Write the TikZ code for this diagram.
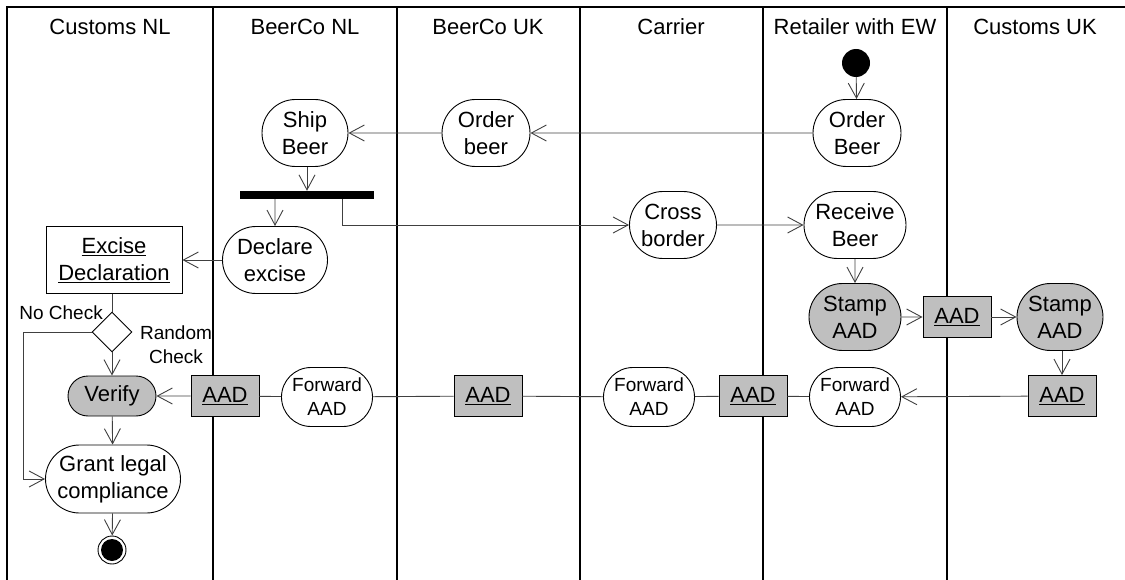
\documentclass[tikz,border=0pt]{standalone}
\usepackage{fontspec}
\setmainfont{Liberation Sans}
\usepackage{tikz}
\usetikzlibrary{shapes.geometric,shapes.misc,arrows.meta,calc}

\newcommand{\mainfs}{\fontsize{22}{27}\selectfont}
\newcommand{\smallfs}{\fontsize{19}{24}\selectfont}

\begin{document}
\begin{tikzpicture}[
    x=1pt,y=-1pt,
    lane/.style={line width=1.2pt},
    act/.style={draw,rounded rectangle,fill=white,line width=0.9pt,minimum height=67pt,inner sep=0pt,align=center,font=\mainfs},
    fwd/.style={act,minimum height=59pt,minimum width=91pt,font=\smallfs},
    stamp/.style={act,fill=black!25},
    obj/.style={draw,fill=black!25,line width=0.9pt,minimum width=68pt,minimum height=41pt,inner sep=0pt,font=\mainfs},
    conn/.style={draw=black!75,line width=0.9pt},
    >={Straight Barb[length=15pt,width=16pt]},
    lbl/.style={font=\smallfs,align=center,inner sep=0pt},
]
    \useasboundingbox (0,0) rectangle (1125,580);

    % swimlanes
    \draw[lane] (7,580) -- (7,7) -- (1125,7);
    \foreach \x in {213,397,580,763,947}
        \draw[lane] (\x,7) -- (\x,580);
    \foreach \x/\name in {110/Customs NL,305/BeerCo NL,488/BeerCo UK,671/Carrier,855/Retailer with EW,1035/Customs UK}
        \node[font=\mainfs] at (\x,27) {\name};

    % nodes
    \node[circle,fill=black,minimum size=28pt,inner sep=0pt] (start) at (856,63) {};
    \node[act,minimum width=88pt] (orderret) at (857,133) {Order\\Beer};
    \node[act,minimum width=88pt] (orderuk) at (486,133) {Order\\beer};
    \node[act,minimum width=86pt] (ship) at (305,133) {Ship\\Beer};
    \node[fill=black,minimum width=134pt,minimum height=8pt,inner sep=0pt] (fork) at (307,195) {};
    \node[act,minimum width=105pt] (declare) at (275,260) {Declare\\excise};
    \node[draw,fill=white,line width=0.9pt,minimum width=136pt,minimum height=67pt,inner sep=0pt,align=center,font=\mainfs] (excdecl) at (114,260) {\underline{Excise}\\\underline{Declaration}};
    \node[draw,diamond,fill=white,line width=0.9pt,minimum size=40pt,inner sep=0pt] (check) at (112,332) {};
    \node[stamp,minimum width=88pt,minimum height=40pt] (verify) at (112,396) {Verify};
    \node[act,minimum width=135pt,minimum height=68pt] (grant) at (113,479) {Grant legal\\compliance};
    \node[circle,draw,line width=0.9pt,fill=white,minimum size=28pt,inner sep=0pt] (end) at (112,550) {};
    \fill (end) circle (11pt);
    \node[act,minimum width=87pt] (cross) at (673,225) {Cross\\border};
    \node[act,minimum width=102pt] (receive) at (855,225) {Receive\\Beer};
    \node[stamp,minimum width=92pt] (stampret) at (855,317) {Stamp\\AAD};
    \node[obj] (aadret) at (957,317) {\underline{AAD}};
    \node[stamp,minimum width=86pt] (stampuk) at (1060,317) {Stamp\\AAD};
    \node[obj] (aaduk) at (1062,396) {\underline{AAD}};
    \node[fwd] (fwdret) at (855,397) {Forward\\AAD};
    \node[obj] (aadcar) at (753,396) {\underline{AAD}};
    \node[fwd] (fwdcar) at (649,397) {Forward\\AAD};
    \node[obj] (aadbuk) at (488,396) {\underline{AAD}};
    \node[fwd] (fwdbnl) at (327,397) {Forward\\AAD};
    \node[obj] (aadbnl) at (225,396) {\underline{AAD}};

    \node[lbl,anchor=east] (nocheck) at (103,313) {No Check};
    \node[lbl] (random) at (176,345) {Random\\Check};

    % flows
    \draw[conn,->] (start) -- (orderret);
    \draw[conn,->] (orderret) -- (orderuk);
    \draw[conn,->] (orderuk) -- (ship);
    \draw[conn,->] (ship.south -| fork) -- (fork.north);
    \draw[conn,->] (fork.south -| declare) -- (declare);
    \draw[conn,->] ([xshift=-32pt]fork.south east) |- (cross.west);
    \draw[conn,->] (cross) -- (receive);
    \draw[conn,->] (declare) -- (excdecl);
    \draw[conn] (excdecl.south -| check) -- (check.north);
    \draw[conn,->] (check) -- (verify);
    \draw[conn,->] (check.west) -- ++(-68,0) |- (grant.west);
    \draw[conn,->] (verify) -- (grant);
    \draw[conn,->] (grant) -- (end);
    \draw[conn,->] (receive) -- (stampret);
    \draw[conn,->] (stampret) -- (aadret);
    \draw[conn,->] (aadret) -- (stampuk);
    \draw[conn,->] (stampuk.south -| aaduk) -- (aaduk.north);
    \draw[conn,->] (aaduk) -- (fwdret);
    \draw[conn] (fwdret) -- (aadcar);
    \draw[conn] (aadcar) -- (fwdcar);
    \draw[conn] (fwdcar) -- (aadbuk);
    \draw[conn] (aadbuk) -- (fwdbnl);
    \draw[conn] (fwdbnl) -- (aadbnl);
    \draw[conn,->] (aadbnl) -- (verify);
\end{tikzpicture}
\end{document}
